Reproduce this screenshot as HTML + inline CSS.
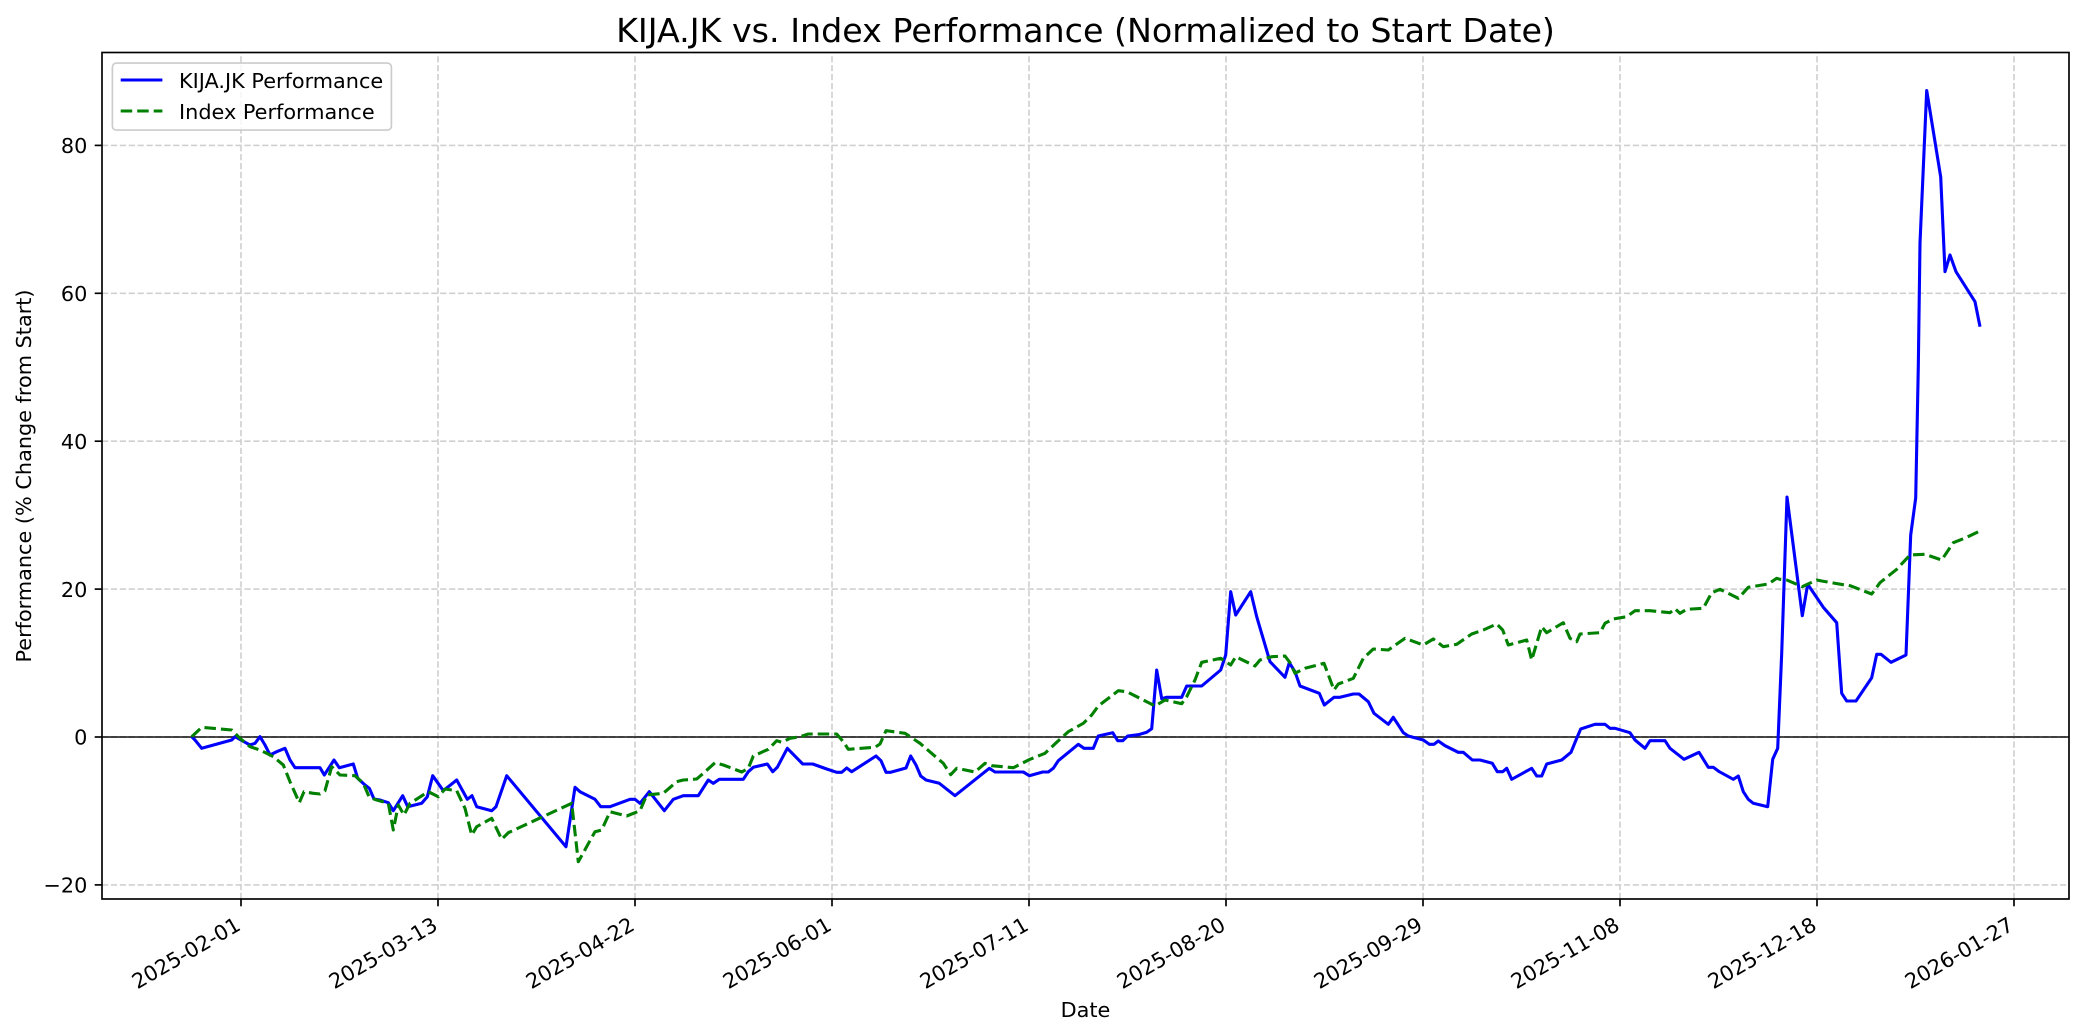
<!DOCTYPE html>
<html><head><meta charset="utf-8"><style>
html,body{margin:0;padding:0;background:#fff;}
svg{display:block;}
text{font-family:"DejaVu Sans","Liberation Sans",sans-serif;fill:#000;}
</style></head><body>
<svg width="2084" height="1035" viewBox="0 0 2084 1035" xmlns="http://www.w3.org/2000/svg">
<rect x="0" y="0" width="2084" height="1035" fill="#fff"/>
<!-- grid -->
<g stroke="#d0d0d0" stroke-width="1.67" stroke-dasharray="6.2,2.7" fill="none">
<line x1="241" y1="899" x2="241" y2="52.5"/>
<line x1="438" y1="899" x2="438" y2="52.5"/>
<line x1="635" y1="899" x2="635" y2="52.5"/>
<line x1="832" y1="899" x2="832" y2="52.5"/>
<line x1="1029" y1="899" x2="1029" y2="52.5"/>
<line x1="1226" y1="899" x2="1226" y2="52.5"/>
<line x1="1423" y1="899" x2="1423" y2="52.5"/>
<line x1="1620" y1="899" x2="1620" y2="52.5"/>
<line x1="1817" y1="899" x2="1817" y2="52.5"/>
<line x1="2014" y1="899" x2="2014" y2="52.5"/>
<line x1="102" y1="884.9" x2="2069" y2="884.9"/>
<line x1="102" y1="737" x2="2069" y2="737"/>
<line x1="102" y1="589.1" x2="2069" y2="589.1"/>
<line x1="102" y1="441.2" x2="2069" y2="441.2"/>
<line x1="102" y1="293.3" x2="2069" y2="293.3"/>
<line x1="102" y1="145.4" x2="2069" y2="145.4"/>
</g>
<!-- zero line -->
<line x1="102" y1="737" x2="2069" y2="737" stroke="#000" stroke-width="1.67" opacity="0.8"/>
<!-- blue -->
<polyline fill="none" stroke="#0000ff" stroke-width="3.1" stroke-linejoin="round" points="191.7,736.7 195,740 201.7,748.3 231.7,740 235,736.7 250,745 255,743.3 260,736.7 265,745 270,755 276.7,751.7 285,748.3 290,760 295,767.7 320,767.7 324.3,775 334,760 339.3,767.7 353.3,764 357.7,778.3 365,785 369.3,788.3 374,799 380,800 388.3,802.7 393.3,810.7 402.7,795.7 407.7,806.7 421.7,803.3 427.3,796.7 432.7,775.7 443.3,790.7 456.7,780 467.3,799.3 472,795.7 476.7,806.7 491.7,810.7 496,806.7 506.7,775.7 566,846.7 575,787.3 580,791.7 595,799.3 600.7,806.7 610,806.7 630,799.3 635,799.3 640,803.3 649.3,791.7 664.3,810.7 673.3,799.3 683.3,795.7 698.3,795.7 708.3,780 713.3,783.3 719.3,779.3 743.3,779.3 748.3,771.7 753.3,767.3 767.3,764 772.7,771.7 777.3,767.3 787.3,748.3 802.7,764 812.7,764 826.7,769 836.7,772.3 841.7,772.3 846.7,768 851.7,771.7 876,756 881,760.7 886,772.3 890.7,772.3 906,768 910.7,756 916,765 920.7,776 926,780 939.3,783.3 955,795.7 989.3,768.3 995,772 1023.3,772 1029.3,775.7 1042.7,772 1048.3,772 1053.3,768.3 1058.3,760.7 1078.3,744.3 1084,748.3 1093.3,748.3 1098.3,736 1112.7,732.7 1117.7,740.7 1122.7,740.7 1127.7,736 1138.3,734.7 1146.7,732.3 1151.7,728.7 1156.7,670 1161.7,698.7 1166.7,697.3 1181.7,697.3 1186.7,686 1201.7,686 1220.7,670 1225.7,655 1230.7,591.7 1235.7,615 1250.7,591.7 1256.7,616.7 1270,661.7 1285,677.3 1289.3,662.7 1295,671.7 1300,686 1319.3,693.3 1324.3,705 1334,697.3 1340,697.3 1353.3,694 1359,694 1368.3,701.7 1374,713.3 1388.3,724.3 1393.3,717.3 1403.3,732.7 1408.3,736 1423.3,740 1429.3,744.3 1434,744.3 1438.3,741 1445,745.7 1458.3,752.3 1463.3,752.3 1472.3,760 1480,760 1492.3,763.3 1497.3,771.7 1502.7,771.7 1506.7,768.3 1511.7,779.3 1531.7,768.3 1536.7,776 1541.7,776 1546.7,764 1561.7,760 1571,752.3 1576,740 1580.7,729 1595,724.3 1605,724.3 1610,728.3 1615,728.3 1630,732.7 1635,740 1645,748.3 1650,740.7 1665,740.7 1670,748.3 1684,759.3 1699,752.3 1708.3,767.3 1713.3,767.3 1719.3,771.7 1733.3,779.3 1738.3,776 1743.3,791.7 1748.3,799.3 1753.3,803.3 1767.7,806.7 1772.7,759.3 1777.7,748.3 1781.7,653.3 1787,497 1802.3,615.7 1807.7,584.3 1823.3,607.3 1836.7,622.7 1841.7,693.3 1846.7,701 1856,701 1871.7,677.7 1876.7,654.3 1881,654.3 1891,662.3 1906,655 1910.7,535 1915.7,498 1918.3,366.7 1920,243 1926.7,90.5 1940.7,177 1945,271.7 1950,255 1956,271.7 1975,301.7 1980,326.7"/>
<!-- green -->
<polyline fill="none" stroke="#008000" stroke-width="3.1" stroke-linejoin="round" stroke-dasharray="11.5,5" points="191.7,736.7 201.7,727.3 231.7,730 240,738.3 250,746.7 260,750 273.3,756.7 283.3,765 290,781.7 299.3,802.7 304,791.7 313.3,793.3 320,794 325,790.7 331.7,766.7 340,775 355,775.7 363.3,783.3 369.3,797.3 376.7,800 388.3,803.3 393.3,830 398.3,805 404,815 410,803.3 428.3,791.7 438.3,796.7 445,789 456.7,790.7 465,808.3 471.7,835 476.7,826.7 491.7,818.3 501.7,839.3 508.3,832.7 571.7,803.3 578.3,861.7 595,831.7 601.7,830 610,811.7 626.7,816 640,810.7 646.7,795 663.3,793.3 676.7,781.7 683.3,780 696.7,779 703.3,773.3 715,762.7 723.3,765 741.7,772 748.3,768.3 753.3,756 768.3,749.3 776.7,740.7 781.7,742.3 790,738.3 800,736.7 808.3,734 836.7,734 843.3,741.7 848.3,749.3 875,747.3 880,744 886,730.7 905,733.3 920,743.3 943.3,763.3 950.7,774.7 956.7,768.3 975,772 985,763.3 991.7,765.7 1013.3,767.7 1030,759.3 1045,753.3 1056.7,742.3 1068.3,731.7 1083.3,723.3 1091.7,715 1098.3,706 1118.3,690.7 1126.7,691.7 1146.7,701.7 1155,706 1165,700 1181.7,703.7 1186.7,696.7 1195,680 1201.7,662.3 1220.7,658.3 1230.7,665 1235.7,656.7 1255,666 1260,660 1271.7,656.7 1285,656 1290,662.7 1295,673.3 1305,668.3 1324,663.3 1334,690 1338.3,684 1353.3,678.3 1363.3,658.3 1373.3,649 1388.3,650 1405,638.3 1423.3,645 1433.3,639 1443.3,646.7 1456.7,644.3 1471.7,634 1483.3,630 1496.7,624 1502.7,630 1508.3,645 1526.7,640 1531.7,660 1541.7,626.7 1546.7,632.7 1563.3,622.7 1570,638.3 1576.7,641.7 1580,634 1600,632.7 1605,623.3 1613.3,619 1626.7,616.7 1635,610.7 1650,610.7 1670,612.7 1675,608.7 1680,613.3 1686.7,609.3 1703.3,608.3 1711.7,592.7 1720,589.3 1738.3,598.3 1748.3,587.3 1768.3,584 1776.7,578.3 1780,579.3 1786.7,580 1802.3,586.7 1816.7,580 1821.7,581 1845,585 1848.3,585 1871.7,594 1880,582.7 1896.7,569.3 1910,555 1925,554.3 1941.7,560 1953.3,542.7 1966.7,537.3 1980,531"/>
<!-- spines -->
<rect x="102" y="52.5" width="1967" height="846.5" fill="none" stroke="#000" stroke-width="1.67"/>
<!-- ticks -->
<g stroke="#000" stroke-width="1.67">
<line x1="241" y1="899" x2="241" y2="906.3"/>
<line x1="438" y1="899" x2="438" y2="906.3"/>
<line x1="635" y1="899" x2="635" y2="906.3"/>
<line x1="832" y1="899" x2="832" y2="906.3"/>
<line x1="1029" y1="899" x2="1029" y2="906.3"/>
<line x1="1226" y1="899" x2="1226" y2="906.3"/>
<line x1="1423" y1="899" x2="1423" y2="906.3"/>
<line x1="1620" y1="899" x2="1620" y2="906.3"/>
<line x1="1817" y1="899" x2="1817" y2="906.3"/>
<line x1="2014" y1="899" x2="2014" y2="906.3"/>
<line x1="94.7" y1="884.9" x2="102" y2="884.9"/>
<line x1="94.7" y1="737" x2="102" y2="737"/>
<line x1="94.7" y1="589.1" x2="102" y2="589.1"/>
<line x1="94.7" y1="441.2" x2="102" y2="441.2"/>
<line x1="94.7" y1="293.3" x2="102" y2="293.3"/>
<line x1="94.7" y1="145.4" x2="102" y2="145.4"/>
</g>
<!-- y tick labels -->
<g font-size="20.8" text-anchor="end">
<text x="87.4" y="892.6">−20</text>
<text x="87.4" y="744.7">0</text>
<text x="87.4" y="596.8">20</text>
<text x="87.4" y="448.9">40</text>
<text x="87.4" y="301">60</text>
<text x="87.4" y="153.1">80</text>
</g>
<!-- x tick labels -->
<g font-size="20.8" text-anchor="end">
<text x="242" y="929" transform="rotate(-30 242 929)">2025-02-01</text>
<text x="439" y="929" transform="rotate(-30 439 929)">2025-03-13</text>
<text x="636" y="929" transform="rotate(-30 636 929)">2025-04-22</text>
<text x="833" y="929" transform="rotate(-30 833 929)">2025-06-01</text>
<text x="1030" y="929" transform="rotate(-30 1030 929)">2025-07-11</text>
<text x="1227" y="929" transform="rotate(-30 1227 929)">2025-08-20</text>
<text x="1424" y="929" transform="rotate(-30 1424 929)">2025-09-29</text>
<text x="1621" y="929" transform="rotate(-30 1621 929)">2025-11-08</text>
<text x="1818" y="929" transform="rotate(-30 1818 929)">2025-12-18</text>
<text x="2015" y="929" transform="rotate(-30 2015 929)">2026-01-27</text>
</g>
<!-- axis labels -->
<text x="1085.5" y="1017" font-size="20.8" text-anchor="middle">Date</text>
<text x="31" y="476" font-size="20.8" text-anchor="middle" transform="rotate(-90 31 476)">Performance (% Change from Start)</text>
<!-- title -->
<text x="1085.5" y="42" font-size="33.3" text-anchor="middle">KIJA.JK vs. Index Performance (Normalized to Start Date)</text>
<!-- legend -->
<rect x="112.4" y="63.1" width="279" height="67" rx="4" ry="4" fill="#fff" fill-opacity="0.8" stroke="#cccccc" stroke-width="1.67"/>
<line x1="120.7" y1="80" x2="162.4" y2="80" stroke="#0000ff" stroke-width="3.1"/>
<line x1="120.7" y1="111" x2="162.4" y2="111" stroke="#008000" stroke-width="3.1" stroke-dasharray="11.5,5"/>
<text x="179" y="88" font-size="20.8">KIJA.JK Performance</text>
<text x="179" y="119" font-size="20.8">Index Performance</text>
</svg>
</body></html>
